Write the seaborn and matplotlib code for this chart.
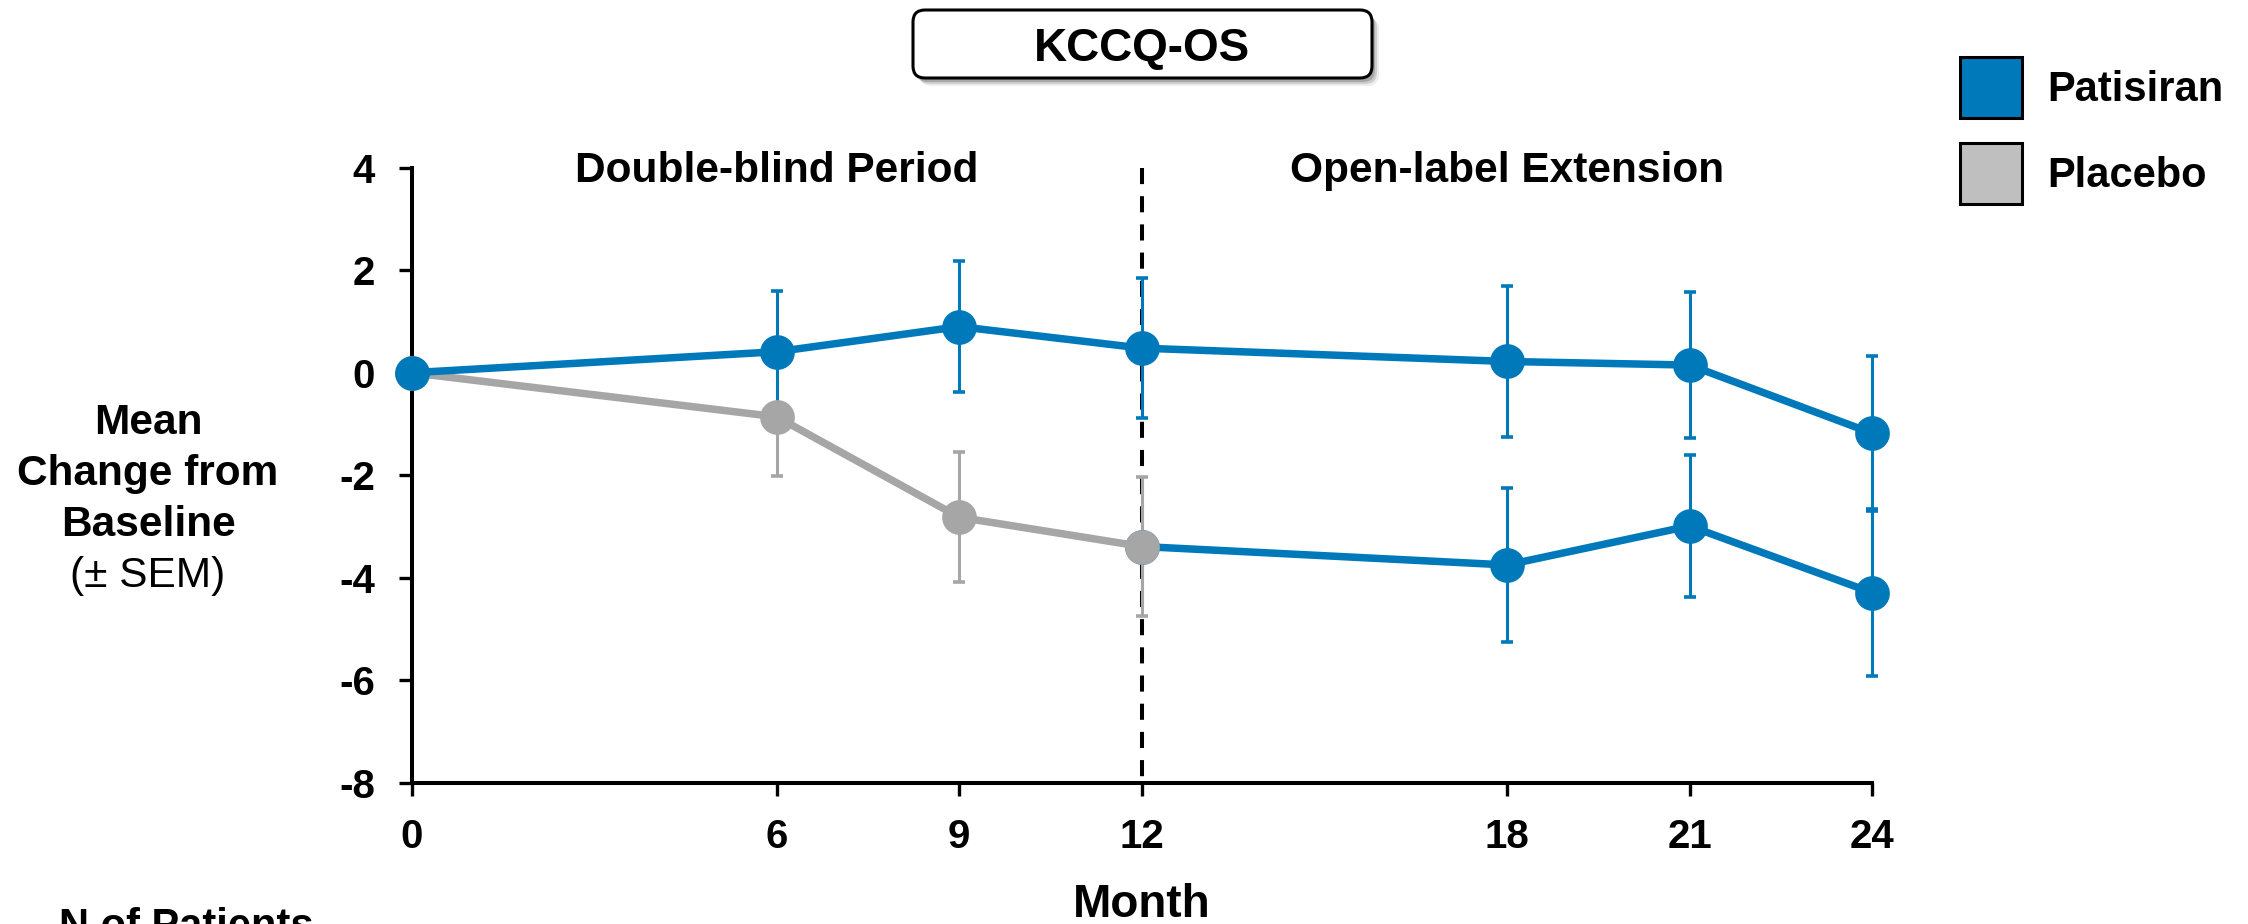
import matplotlib
matplotlib.use("Agg")
import matplotlib.pyplot as plt
import seaborn as sns
from matplotlib.patches import FancyBboxPatch, Patch
from matplotlib.transforms import IdentityTransform

# ---- data -------------------------------------------------------------
patisiran_month = [0, 6, 9, 12, 18, 21, 24]
patisiran_mean = [0.0, 0.41, 0.90, 0.48, 0.22, 0.15, -1.18]
patisiran_sem = [0.0, 1.18, 1.28, 1.36, 1.48, 1.42, 1.51]

placebo_month = [0, 6, 9, 12]
placebo_mean = [0.0, -0.86, -2.82, -3.39]
placebo_sem = [0.0, 1.15, 1.27, 1.36]

# placebo patients switched to patisiran in the open-label extension
switch_month = [12, 18, 21, 24]
switch_mean = [-3.39, -3.75, -2.99, -4.29]
switch_sem = [0.0, 1.51, 1.39, 1.63]

x_ticks = [0, 6, 9, 12, 18, 21, 24]
y_ticks = [-8, -6, -4, -2, 0, 2, 4]

BLUE = "#0079BA"
GREY_LINE = "#A6A6A6"
GREY_PATCH = "#BFBFBF"

# ---- style ------------------------------------------------------------
sns.set_theme(style="ticks")
plt.rcParams["font.family"] = ["Liberation Sans", "DejaVu Sans"]
plt.rcParams["axes.unicode_minus"] = False
for key in ("text.color", "axes.labelcolor", "xtick.color", "ytick.color",
            "axes.edgecolor"):
    plt.rcParams[key] = "black"

W, H, DPI = 2248, 924, 100
fig = plt.figure(figsize=(W / DPI, H / DPI), dpi=DPI)
fig.patch.set_facecolor("white")
ax = fig.add_axes([0.1831, 0.1528, 0.6497, 0.6657])

# ---- period separator -------------------------------------------------
ax.vlines(12, 4, -8, colors="black", linewidth=2.9,
          linestyles=(0, (4, 3)), zorder=1)

# ---- error bars -------------------------------------------------------
def sem_bars(months, means, sems, color):
    pts = [(m, v, s) for m, v, s in zip(months, means, sems) if s > 0]
    xs, ys, es = zip(*pts)
    ax.errorbar(xs, ys, yerr=es, fmt="none", ecolor=color,
                elinewidth=2.2, capsize=4.5, capthick=2.6,
                zorder=2, clip_on=False)

sem_bars(switch_month, switch_mean, switch_sem, BLUE)
sem_bars(placebo_month, placebo_mean, placebo_sem, GREY_LINE)
sem_bars(patisiran_month, patisiran_mean, patisiran_sem, BLUE)

# ---- lines with markers ----------------------------------------------
line_kw = dict(linewidth=5.4, marker="o", markersize=25,
               markeredgewidth=0, clip_on=False, legend=False,
               errorbar=None, sort=False)

sns.lineplot(x=switch_month, y=switch_mean, color=BLUE, ax=ax,
             zorder=3, **line_kw)
sns.lineplot(x=placebo_month, y=placebo_mean, color=GREY_LINE, ax=ax,
             zorder=4, **line_kw)
sns.lineplot(x=patisiran_month, y=patisiran_mean, color=BLUE, ax=ax,
             zorder=5, **line_kw)

# ---- axes -------------------------------------------------------------
ax.set_xlim(0, 24)
ax.set_ylim(-8, 4)
ax.set_xticks(x_ticks)
ax.set_yticks(y_ticks)
ax.set_xticklabels([str(t) for t in x_ticks])
ax.set_yticklabels([str(t) for t in y_ticks])
ax.set_xlabel("")
ax.set_ylabel("")
sns.despine(ax=ax)
for side in ("left", "bottom"):
    ax.spines[side].set_linewidth(2.9)
    ax.spines[side].set_color("black")
ax.tick_params(axis="both", direction="out", length=9.5, width=2.4,
               color="black", labelsize=29, labelcolor="black")
ax.tick_params(axis="y", pad=17)
ax.tick_params(axis="x", pad=16)
for lab in ax.get_xticklabels() + ax.get_yticklabels():
    lab.set_fontweight("bold")

# ---- period headers ---------------------------------------------------
ax.text(6, 3.73, "Double-blind Period", ha="center", va="baseline",
        fontsize=30.5, fontweight="bold", color="black")
ax.text(18, 3.73, "Open-label Extension", ha="center", va="baseline",
        fontsize=30.5, fontweight="bold", color="black")

# ---- y-axis caption ---------------------------------------------------
cx = 148 / W
for txt, base, weight in [("Mean", 433.6, "bold"),
                          ("Change from", 485.4, "bold"),
                          ("Baseline", 536.0, "bold"),
                          ("(\u00b1 SEM)", 587.0, "normal")]:
    fig.text(cx, (H - base) / H, txt, ha="center", va="baseline",
             fontsize=30.5, fontweight=weight, color="black")

# ---- x-axis caption and footer ---------------------------------------
fig.text(1141.5 / W, (H - 917) / H, "Month", ha="center", va="baseline",
         fontsize=33, fontweight="bold", color="black")
fig.text(59 / W, (H - 938) / H, "N of Patients", ha="left", va="baseline",
         fontsize=30, fontweight="bold", color="black")

# ---- title box with drop shadow --------------------------------------
bx, by, bw, bh = 913, H - 78, 459, 68
for dx, dy, alpha in [(7, -8, 0.10), (5, -6, 0.20), (3, -4, 0.30)]:
    fig.add_artist(FancyBboxPatch(
        (bx + dx, by + dy), bw, bh,
        boxstyle="round,pad=0,rounding_size=12",
        transform=IdentityTransform(), fc="#505050", ec="none",
        alpha=alpha, zorder=1))
fig.add_artist(FancyBboxPatch(
    (bx, by), bw, bh, boxstyle="round,pad=0,rounding_size=12",
    transform=IdentityTransform(), fc="white", ec="black",
    lw=2.2, zorder=2))
fig.text(1142 / W, (H - 61) / H, "KCCQ-OS", ha="center", va="baseline",
         fontsize=33, fontweight="bold", color="black", zorder=3)

# ---- legend -----------------------------------------------------------
handles = [Patch(facecolor=BLUE, edgecolor="black", linewidth=2.2,
                 label="Patisiran"),
           Patch(facecolor=GREY_PATCH, edgecolor="black", linewidth=2.2,
                 label="Placebo")]
leg = fig.legend(handles=handles, loc="upper left",
                 bbox_to_anchor=(1960 / W, (H - 57) / H),
                 frameon=False, borderpad=0, borderaxespad=0,
                 handlelength=1.49, handleheight=1.86,
                 handletextpad=0.6, labelspacing=0.62,
                 prop={"size": 30, "weight": "bold"})
for t in leg.get_texts():
    t.set_color("black")

fig.savefig("out.png", dpi=DPI, facecolor="white")
